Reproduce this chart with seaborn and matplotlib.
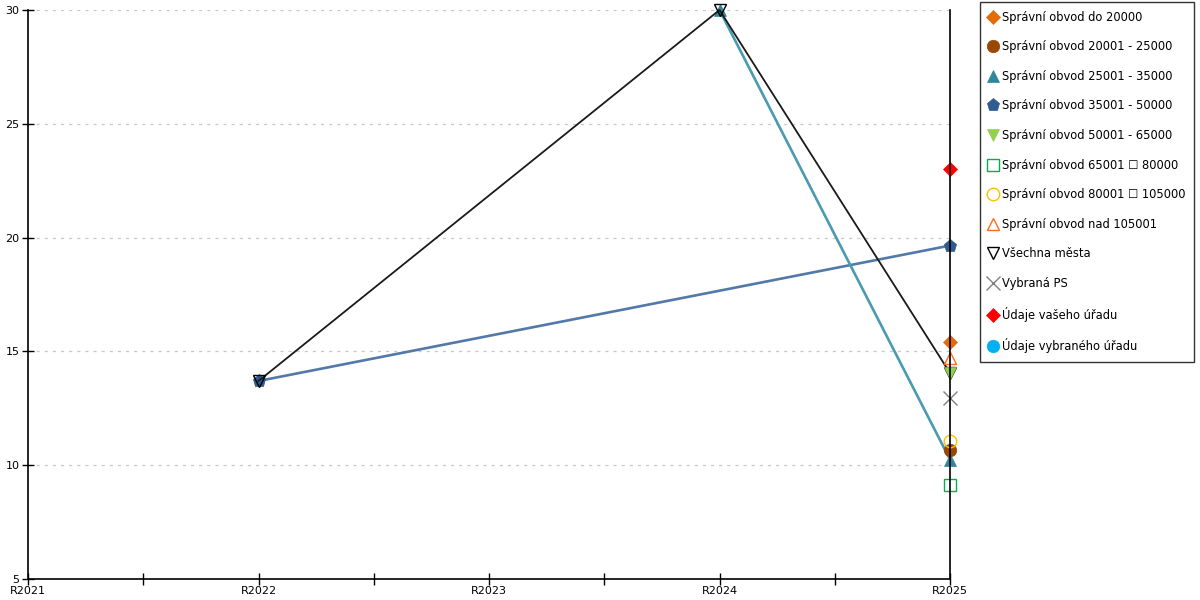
import numpy as np
import pandas as pd
import matplotlib
matplotlib.use("Agg")
import matplotlib.pyplot as plt
from matplotlib.lines import Line2D
import seaborn as sns

# --- data ---
years = ["R2021", "R2022", "R2023", "R2024", "R2025"]
nan = np.nan

labels = [
    "Správní obvod do 20000",
    "Správní obvod 20001 - 25000",
    "Správní obvod 25001 - 35000",
    "Správní obvod 35001 - 50000",
    "Správní obvod 50001 - 65000",
    "Správní obvod 65001 \u2610 80000",
    "Správní obvod 80001 \u2610 105000",
    "Správní obvod nad 105001",
    "Všechna města",
    "Vybraná PS",
    "Údaje vašeho úřadu",
    "Údaje vybraného úřadu",
]

obvod_do_20000 = [nan, nan, nan, nan, 15.4]
obvod_20001_25000 = [nan, nan, nan, nan, 10.65]
obvod_25001_35000 = [nan, nan, nan, 30.0, 10.25]
obvod_35001_50000 = [nan, 13.7, nan, nan, 19.65]
obvod_50001_65000 = [nan, nan, nan, nan, 14.05]
obvod_65001_80000 = [nan, nan, nan, nan, 9.15]
obvod_80001_105000 = [nan, nan, nan, nan, 11.05]
obvod_nad_105001 = [nan, nan, nan, nan, 14.7]
vsechna_mesta = [nan, 13.7, nan, 30.0, 14.05]
vybrana_ps = [nan, nan, nan, nan, 12.95]
vas_urad = [nan, nan, nan, nan, 23.0]
vybrany_urad = [nan, nan, nan, nan, nan]

values = [obvod_do_20000, obvod_20001_25000, obvod_25001_35000, obvod_35001_50000,
          obvod_50001_65000, obvod_65001_80000, obvod_80001_105000, obvod_nad_105001,
          vsechna_mesta, vybrana_ps, vas_urad, vybrany_urad]

# marker, colour, filled, line colour
styles = [
    ("D", "#E36C0A", True, None),
    ("o", "#984807", True, None),
    ("^", "#31859C", True, "#4A9AB2"),
    ("p", "#2F5B8E", True, "#5279A8"),
    ("v", "#92D050", True, None),
    ("s", "#00B050", False, None),
    ("o", "#FFC000", False, None),
    ("^", "#FF6A1A", False, None),
    ("v", "#000000", False, "#1a1a1a"),
    ("x", "#808080", False, None),
    ("D", "#FF0000", True, None),
    ("o", "#00B0F0", True, None),
]
sizes = [7, 9, 9, 9.5, 9, 9, 9, 9, 9, 10, 7, 9]

sns.set_style("white")
plt.rcParams["font.family"] = ["DejaVu Sans"]
plt.rcParams["text.color"] = "black"
plt.rcParams["xtick.color"] = "black"
plt.rcParams["ytick.color"] = "black"

fig = plt.figure(figsize=(12, 6), dpi=100)
ax = fig.add_axes([28 / 1200, 21 / 600, 922 / 1200, 569 / 600])

draw_order = [3, 2, 8, 0, 1, 4, 5, 6, 7, 9, 10, 11]
for i in draw_order:
    marker, col, filled, lcol = styles[i]
    df = pd.DataFrame({"pos": range(len(years)), "value": values[i]}).dropna()
    if df.empty:
        continue
    lw = 0 if lcol is None else (1.3 if i == 8 else 1.9)
    sns.lineplot(
        data=df, x="pos", y="value", ax=ax,
        color=lcol if lcol else col, linewidth=lw,
        marker=marker, markersize=sizes[i],
        markerfacecolor=col if filled else "none",
        markeredgecolor=col, markeredgewidth=1.0 if not filled else 0.5,
        clip_on=False,
    )

ax.set_xlim(0, len(years) - 1)
ax.set_ylim(5, 30)
ax.set_xticks(range(len(years)))
ax.set_xticklabels(years)
ax.set_xticks([0.5, 1.5, 2.5, 3.5], minor=True)
ax.set_yticks([5, 10, 15, 20, 25, 30])
ax.set_xlabel("")
ax.set_ylabel("")
ax.tick_params(axis="both", which="both", direction="inout", length=8, width=1,
               color="black", labelcolor="black", labelsize=8, pad=1, left=True, bottom=True)
ax.tick_params(axis="y", pad=2)
ax.yaxis.grid(True, linestyle=(0, (2.5, 4)), color="#c8c8c8", linewidth=0.9)
ax.xaxis.grid(False)
for side in ["left", "bottom", "right"]:
    ax.spines[side].set_visible(True)
    ax.spines[side].set_color("black")
    ax.spines[side].set_linewidth(1.2)
ax.spines["top"].set_visible(False)

handles = []
for (marker, col, filled, lcol), ms in zip(styles, sizes):
    handles.append(Line2D([], [], linestyle="none", marker=marker, markersize=ms,
                          markerfacecolor=col if filled else "none",
                          markeredgecolor=col, markeredgewidth=1.0 if not filled else 0.5))

leg = fig.legend(handles, labels, loc="upper left", bbox_to_anchor=(980 / 1200, 598 / 600),
                 fontsize=8.3, frameon=True, fancybox=False, labelspacing=1.44,
                 handlelength=0.7, handletextpad=0.45, borderpad=0.75, borderaxespad=0)
for t in leg.get_texts():
    t.set_color("black")
leg.get_frame().set_edgecolor("black")
leg.get_frame().set_linewidth(1.0)

fig.savefig("out.png", dpi=100)
